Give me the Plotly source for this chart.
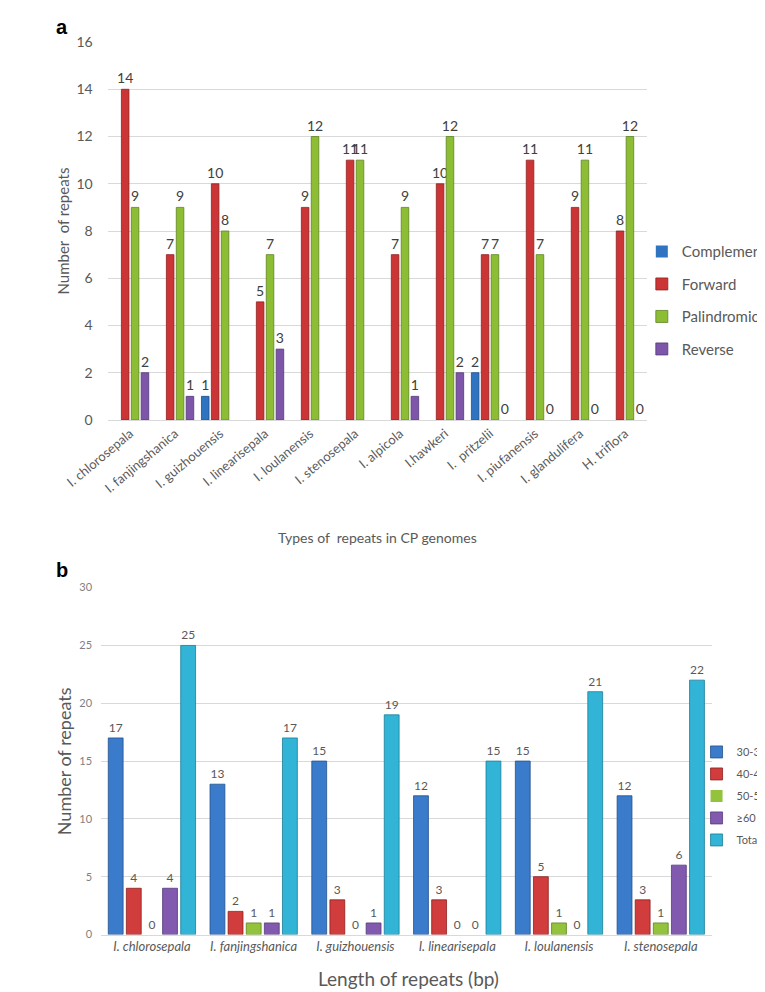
import plotly.graph_objects as go

# panel a
species_a = ["I. chlorosepala", "I. fanjingshanica", "I. guizhouensis", "I. linearisepala",
             "I. loulanensis", "I. stenosepala", "I. alpicola", "I.hawkeri", "I.  pritzelii",
             "I. piufanensis", "I. glandulifera", "H. triflora"]
complement = [None, None, 1, None, None, None, None, None, 2, None, None, None]
forward = [14, 7, 10, 5, 9, 11, 7, 10, 7, 11, 9, 8]
palindromic = [9, 9, 8, 7, 12, 11, 9, 12, 7, 7, 11, 12]
reverse = [2, 1, None, 3, None, None, 1, 2, 0, 0, 0, 0]

# panel b
species_b = ["I. chlorosepala", "I. fanjingshanica", "I. guizhouensis", "I. linearisepala",
             "I. loulanensis", "I. stenosepala"]
len_30_39 = [17, 13, 15, 12, 15, 12]
len_40_49 = [4, 2, 3, 3, 5, 3]
len_50_59 = [0, 1, 0, 0, 1, 1]
len_60 = [4, 1, 1, 0, 0, 6]
total = [25, 17, 19, 15, 21, 22]

W, H = 765, 992
FONT = "Lato"
GREY = "#595959"


def px(x):
    return x / W


def py(y):
    return 1 - y / H


def labels(vals):
    return ["" if v is None else str(v) for v in vals]


def edges(vals):
    # no outline on empty / zero bars
    return [0 if not v else 0.8 for v in vals]


fig = go.Figure()

series_a = [("Complement", complement, "#2f74c0", "#1d4f8a"),
            ("Forward", forward, "#cc3535", "#8e1f1f"),
            ("Palindromic", palindromic, "#8dbd35", "#5c8420"),
            ("Reverse", reverse, "#7d55a9", "#543878")]
slot_a, width_a = 0.22, 0.168
for i, (name, vals, col, edge) in enumerate(series_a):
    fig.add_trace(go.Bar(
        x=species_a, y=vals, name=name, legend="legend", legendgroup=name,
        marker=dict(color=col, line=dict(color=edge, width=edges(vals))),
        width=width_a, offset=(i - 1.5) * slot_a - width_a / 2,
        text=labels(vals), textposition="outside", cliponaxis=False,
        constraintext="none",
        textfont=dict(family=FONT, size=14, color="#404040"),
        xaxis="x", yaxis="y"))

series_b = [("30-39", len_30_39, "#3a7bcb", "#23518c"),
            ("40-49", len_40_49, "#d13c3c", "#8e2020"),
            ("50-59", len_50_59, "#93c23c", "#5d8420"),
            ("≥60", len_60, "#8159ae", "#553a7a"),
            ("Total", total, "#31b4d6", "#1b7d98")]
slot_b, width_b = 0.178, 0.146
for i, (name, vals, col, edge) in enumerate(series_b):
    fig.add_trace(go.Bar(
        x=species_b, y=vals, name=name, legend="legend2", legendgroup=name,
        marker=dict(color=col, line=dict(color=edge, width=edges(vals))),
        width=width_b, offset=(i - 2) * slot_b - width_b / 2,
        text=labels(vals), textposition="outside", cliponaxis=False,
        constraintext="none",
        textfont=dict(family=FONT, size=12, color=GREY),
        xaxis="x2", yaxis="y2"))

fig.update_layout(
    width=W, height=H,
    margin=dict(l=0, r=0, t=0, b=0),
    paper_bgcolor="white", plot_bgcolor="white",
    font=dict(family=FONT, color=GREY),
    xaxis=dict(domain=[px(60), px(632)], anchor="y", tickangle=-40,
               tickfont=dict(size=13, color=GREY), showline=True, linecolor="#d9d9d9",
               showgrid=False),
    yaxis=dict(domain=[py(410), py(25)], anchor="x", range=[0, 16.02], dtick=2,
               gridcolor="#d9d9d9", showline=False, zeroline=False,
               tickfont=dict(size=14, color=GREY), ticklabelstandoff=14),
    xaxis2=dict(domain=[px(53), px(700)], anchor="y2",
                tickfont=dict(size=13, color=GREY, style="italic"),
                showline=True, linecolor="#d9d9d9", showgrid=False),
    yaxis2=dict(domain=[py(933.5), py(580)], anchor="x2", range=[0, 30.05], dtick=5,
                gridcolor="#d9d9d9", showline=False, zeroline=False,
                tickfont=dict(size=11, color="#7f7f7f"), ticklabelstandoff=8),
    legend=dict(x=px(626), y=py(222), xanchor="left", yanchor="top",
                font=dict(size=15, color=GREY), tracegroupgap=10, itemwidth=30,
                bgcolor="rgba(0,0,0,0)"),
    legend2=dict(x=px(684), y=py(733), xanchor="left", yanchor="top",
                 font=dict(size=11, color=GREY), tracegroupgap=3, itemwidth=30,
                 bgcolor="rgba(0,0,0,0)"),
    annotations=[
        dict(text="<b>a</b>", x=px(3), y=py(10), xref="paper", yref="paper",
             showarrow=False, xanchor="left", yanchor="middle",
             font=dict(family="Liberation Sans", size=20, color="black")),
        dict(text="<b>b</b>", x=px(3), y=py(563), xref="paper", yref="paper",
             showarrow=False, xanchor="left", yanchor="middle",
             font=dict(family="Liberation Sans", size=20, color="black")),
        dict(text="Number\u00a0\u00a0of repeats", x=px(13), y=py(218), xref="paper",
             yref="paper", showarrow=False, textangle=-90,
             xanchor="center", yanchor="middle",
             font=dict(size=15, color=GREY)),
        dict(text="Types of\u00a0\u00a0repeats in CP genomes", x=px(346), y=py(530),
             xref="paper", yref="paper", showarrow=False,
             xanchor="center", yanchor="middle",
             font=dict(size=14, color=GREY)),
        dict(text="Number of repeats", x=px(14), y=py(757), xref="paper",
             yref="paper", showarrow=False, textangle=-90,
             xanchor="center", yanchor="middle",
             font=dict(size=18, color=GREY)),
        dict(text="Length of repeats (bp)", x=px(379), y=py(978), xref="paper",
             yref="paper", showarrow=False, xanchor="center", yanchor="middle",
             font=dict(size=19, color=GREY)),
    ],
)

fig.write_html("out.html")
